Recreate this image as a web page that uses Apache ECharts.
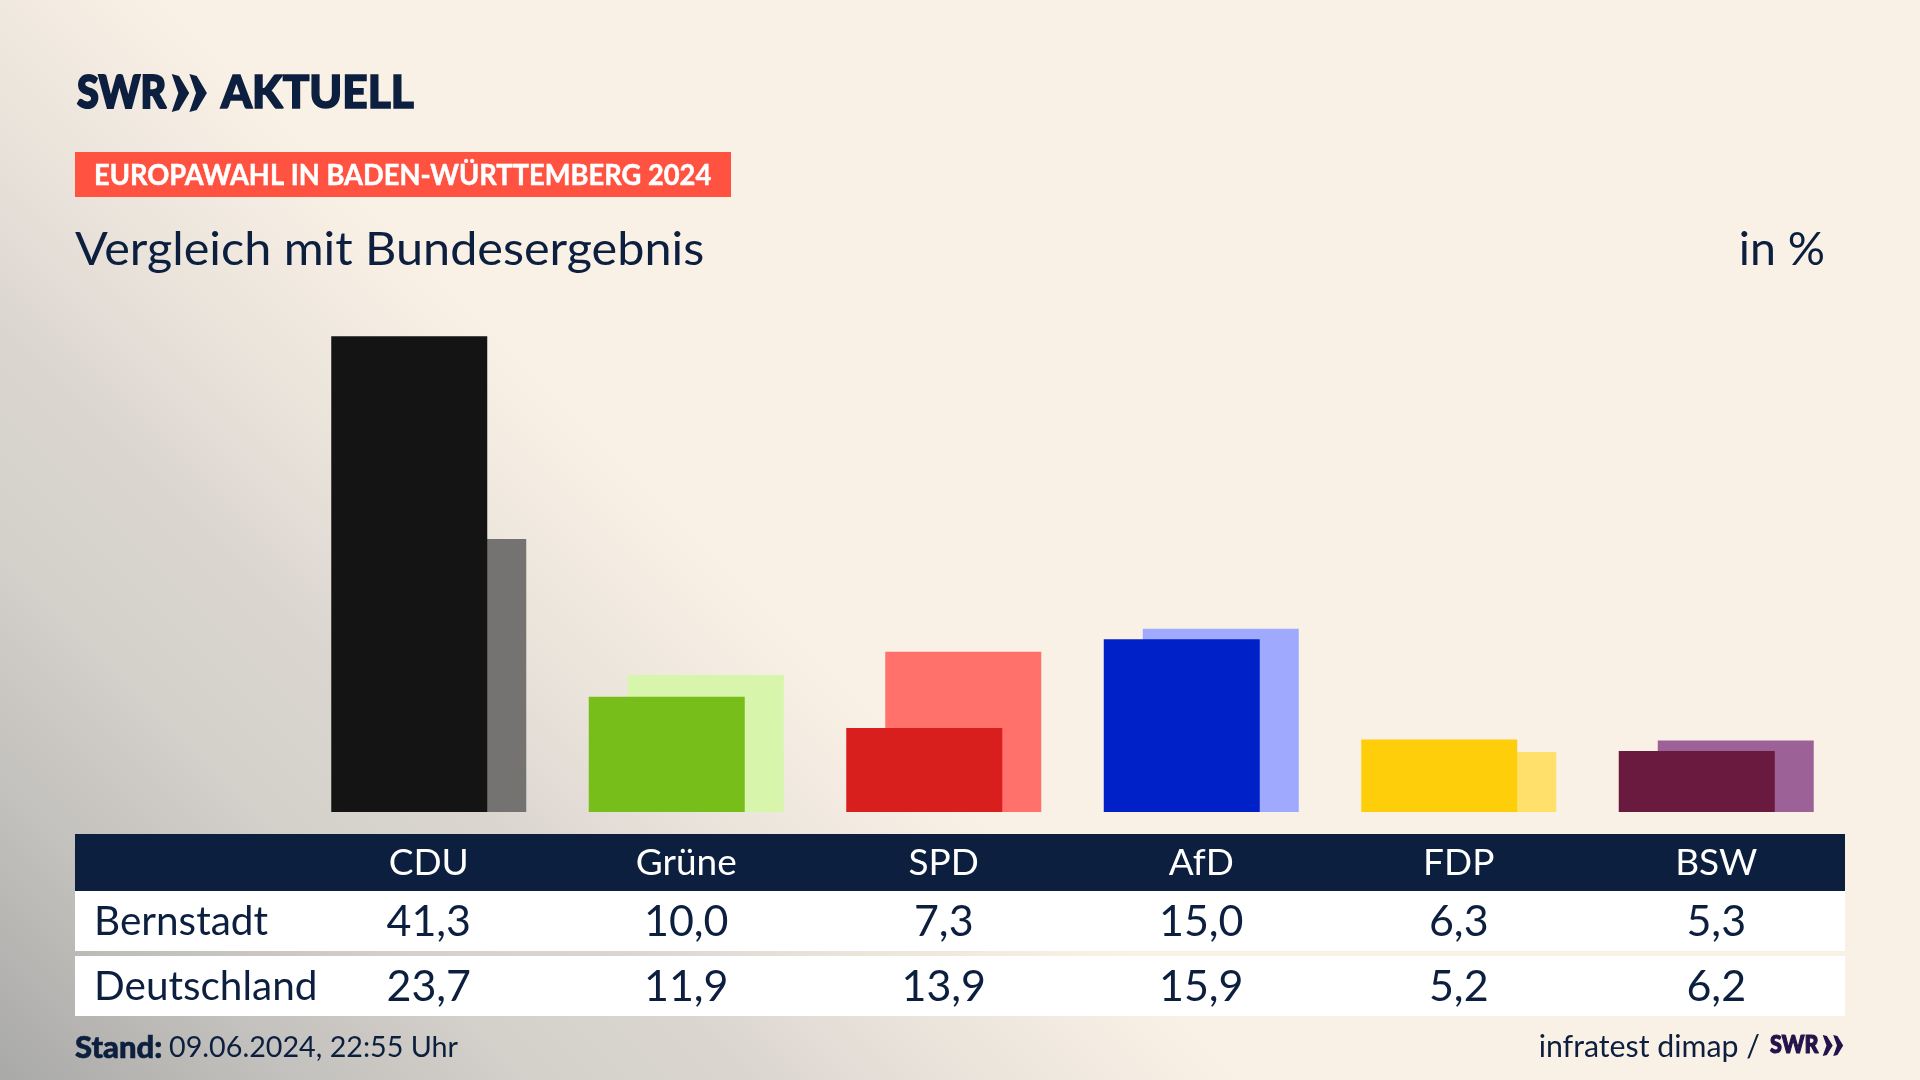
<!DOCTYPE html>
<html>
<head>
<meta charset="utf-8">
<title>Europawahl</title>
<style>
  html, body { margin: 0; padding: 0; }
  #main { width: 1920px; height: 1080px; }
</style>
<script src="https://cdn.jsdelivr.net/npm/echarts@6/dist/echarts.min.js"></script>
</head>
<body>
<div id="main"></div>
<script>
  var myChart = echarts.init(document.getElementById('main'));

  var navy = '#0c1f3f';
  var font = 'Lato';
  var parties = ['CDU', 'Grüne', 'SPD', 'AfD', 'FDP', 'BSW'];
  var bernstadt = [41.3, 10.0, 7.3, 15.0, 6.3, 5.3];
  var deutschland = [23.7, 11.9, 13.9, 15.9, 5.2, 6.2];
  // dunkle Farbe = Bernstadt, helle Farbe = Deutschland
  var dark = ['#141414', '#78be1a', '#d81f1d', '#0020c8', '#ffce0a', '#6a1a3e'];
  var light = ['#747371', '#d7f5ab', '#ff716a', '#9faaff', '#ffe06b', '#9c6298'];

  function komma(v) {
    return v.toFixed(1).replace('.', ',');
  }

  function bars(values, colors) {
    return values.map(function (v, i) {
      return { value: v, itemStyle: { color: colors[i] } };
    });
  }

  // eine Tabellenzeile ist eine eigene x-Achse ohne Linie
  function row(data, color, margin, size) {
    return {
      type: 'category',
      position: 'bottom',
      data: data,
      z: 5,
      axisLine: { show: false },
      axisTick: { show: false },
      axisLabel: {
        interval: 0,
        hideOverlap: false,
        color: color,
        fontFamily: font,
        fontSize: size,
        margin: margin,
        verticalAlign: 'middle'
      }
    };
  }

  function rect(x, y, w, h, fill) {
    return { type: 'rect', z: 0, silent: true, shape: { x: x, y: y, width: w, height: h }, style: { fill: fill } };
  }

  function text(t, x, y, size, color, opt) {
    opt = opt || {};
    return {
      type: 'text', z: 6, silent: true, x: x, y: y,
      originX: 0, originY: 0, scaleX: opt.scaleX || 1,
      style: {
        text: t, fill: color, fontFamily: font, fontSize: size,
        fontWeight: opt.weight || 'normal', textAlign: opt.align || 'left',
        textVerticalAlign: 'middle', textBaseline: 'middle',
        // Lato Bold ist duenner als das Original, daher etwas Kontur
        stroke: opt.fat ? color : null, lineWidth: opt.fat || 0
      }
    };
  }

  function chevrons(x, y, h, w, dx, color) {
    // zwei Winkel des Logos
    var list = [];
    [0, dx].forEach(function (d) {
      list.push({
        type: 'polygon', z: 6, silent: true,
        shape: { points: [
          [x + d, y], [x + d + w * 0.42, y + h * 0.05], [x + d + w, y + h / 2],
          [x + d + w * 0.42, y + h * 0.95], [x + d, y + h], [x + d + w * 0.38, y + h / 2]
        ] },
        style: { fill: color }
      });
    });
    return list;
  }

  var option = {
    animation: false,
    // Verlauf von links unten nach rechts oben
    backgroundColor: {
      type: 'linear', x: 0, y: 1, x2: 0.3255, y2: 0.4213,
      colorStops: [
        { offset: 0, color: '#a9a9a8' },
        { offset: 0.234, color: '#c3c1bd' },
        { offset: 0.33, color: '#cbc8c4' },
        { offset: 0.43, color: '#d4d1cb' },
        { offset: 0.6, color: '#dad5cf' },
        { offset: 0.68, color: '#e3dcd6' },
        { offset: 0.8, color: '#ece5dc' },
        { offset: 1, color: '#faf1e6' }
      ]
    },
    grid: { left: 300, width: 1545, top: 282, height: 530 },
    xAxis: [
      row(parties, '#ffffff', 51, 37),
      row(bernstadt.map(komma), navy, 110, 43),
      row(deutschland.map(komma), navy, 175, 43)
    ],
    yAxis: { type: 'value', min: 0, max: 46, show: false },
    series: [
      {
        name: 'Bernstadt', type: 'bar', z: 3, barWidth: 156, barGap: '-75%',
        data: bars(bernstadt, dark)
      },
      {
        name: 'Deutschland', type: 'bar', z: 2, barWidth: 156,
        data: bars(deutschland, light)
      }
    ],
    graphic: [
      rect(75, 834, 1770, 57, navy),
      rect(75, 891, 1770, 60, '#ffffff'),
      rect(75, 956, 1770, 60, '#ffffff'),
      rect(75, 152, 656, 45, '#ff5240'),
      text('SWR', 77, 93, 46, navy, { weight: 900, scaleX: 0.86, fat: 2 }),
      text('AKTUELL', 221, 93, 46, navy, { weight: 900, scaleX: 0.96, fat: 1.6 }),
      text('EUROPAWAHL IN BADEN-WÜRTTEMBERG 2024', 94, 176, 28, '#ffffff', { weight: 'bold', scaleX: 0.975, fat: 0.5 }),
      text('Vergleich mit Bundesergebnis', 75, 250, 47, navy, { scaleX: 1.033 }),
      text('in %', 1825, 250, 46.5, navy, { align: 'right' }),
      text('Bernstadt', 94, 922, 40.5, navy),
      text('Deutschland', 94, 987, 40.5, navy),
      text('Stand:', 75, 1048, 31, navy, { weight: 900, fat: 0.6 }),
      text('09.06.2024, 22:55 Uhr', 169, 1048, 29, navy, { scaleX: 0.99 }),
      text('infratest dimap /', 1760, 1047, 30.3, navy, { align: 'right' }),
      text('SWR', 1770, 1045, 25, '#24134a', { weight: 900, scaleX: 0.86, fat: 1.2 })
    ].concat(chevrons(171.7, 74, 38, 17.5, 17.7, navy), chevrons(1822.7, 1035, 21, 10, 10.5, '#24134a'))
  };

  myChart.setOption(option);
</script>
</body>
</html>
